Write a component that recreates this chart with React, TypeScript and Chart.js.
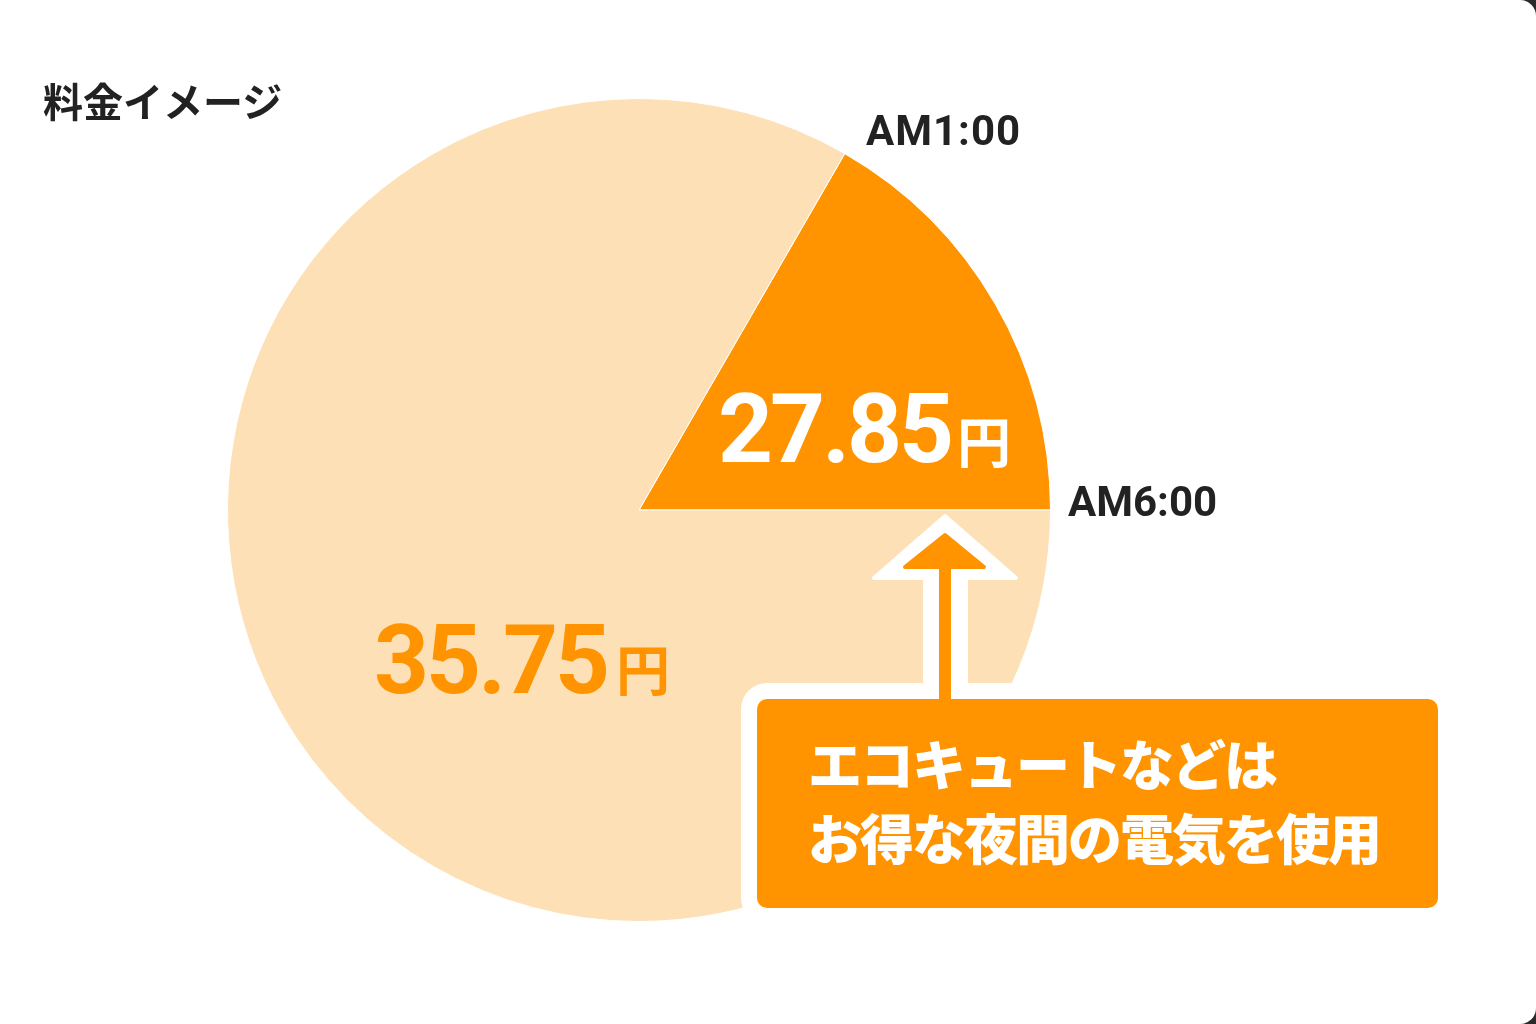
import React, { useEffect, useRef } from 'react';
import { Chart, registerables } from 'chart.js';

Chart.register(...registerables);

// ---- data ----
const sliceLabels = ['AM1:00〜AM6:00', 'その他の時間'];
const sliceShares = [60, 300]; // share of the dial (degrees)
const sliceColors = ['#FF9400', '#FDE0B6'];
const sliceStartAngle = 30;
const priceValues = ['27.85', '35.75'];
const priceUnit = '円';
const timeLabels = ['AM1:00', 'AM6:00'];
const titleText = '料金イメージ';
const calloutLines = ['エコキュートなどは', 'お得な夜間の電気を使用'];

const W = 1536;
const H = 1024;
const CX = 639;
const CY = 510;
const R = 412;

const ORANGE = '#FF9400';

const calloutPlugin = {
  id: 'calloutPlugin',
  afterDatasetsDraw(chart: any) {
    const ctx: CanvasRenderingContext2D = chart.ctx;
    ctx.save();
    ctx.lineJoin = 'round';
    // white outline arrow
    ctx.fillStyle = '#ffffff';
    ctx.strokeStyle = '#ffffff';
    ctx.lineWidth = 4;
    ctx.beginPath();
    ctx.moveTo(945, 516);
    ctx.lineTo(1016, 578);
    ctx.lineTo(966, 578);
    ctx.lineTo(966, 700);
    ctx.lineTo(925, 700);
    ctx.lineTo(925, 578);
    ctx.lineTo(874, 578);
    ctx.closePath();
    ctx.fill();
    ctx.stroke();
    // white box border
    ctx.beginPath();
    (ctx as any).roundRect(741, 683, 713, 241, 26);
    ctx.fill();
    // orange box
    ctx.fillStyle = ORANGE;
    ctx.beginPath();
    (ctx as any).roundRect(757, 699, 681, 209, 10);
    ctx.fill();
    // orange arrow
    ctx.strokeStyle = ORANGE;
    ctx.beginPath();
    ctx.moveTo(945, 535);
    ctx.lineTo(984, 567);
    ctx.lineTo(949, 567);
    ctx.lineTo(949, 705);
    ctx.lineTo(941, 705);
    ctx.lineTo(941, 567);
    ctx.lineTo(905, 567);
    ctx.closePath();
    ctx.fill();
    ctx.stroke();
    ctx.restore();
  },
};

const abs = (s: React.CSSProperties): React.CSSProperties => ({
  position: 'absolute',
  whiteSpace: 'nowrap',
  lineHeight: 1,
  margin: 0,
  ...s,
});

export default function App() {
  const canvasRef = useRef<HTMLCanvasElement | null>(null);

  useEffect(() => {
    if (!canvasRef.current) return;
    const chart = new Chart(canvasRef.current, {
      type: 'pie',
      data: {
        labels: sliceLabels,
        datasets: [
          {
            data: sliceShares,
            backgroundColor: sliceColors,
            borderColor: '#ffffff',
            borderWidth: 1,
            hoverOffset: 0,
          },
        ],
      },
      options: {
        responsive: false,
        animation: false,
        events: [],
        rotation: sliceStartAngle,
        layout: {
          padding: {
            left: CX - R,
            right: W - CX - R,
            top: CY - R,
            bottom: H - CY - R,
          },
        },
        plugins: {
          legend: { display: false },
          tooltip: { enabled: false },
        },
      },
      plugins: [calloutPlugin],
    });
    return () => chart.destroy();
  }, []);

  const roboto = '"Roboto", "Liberation Sans", sans-serif';
  const cjk = '"Noto Sans CJK JP", "Noto Sans", sans-serif';

  return (
    <div style={{ position: 'absolute', left: 0, top: 0, width: W, height: H, background: '#2b2b2b', overflow: 'hidden' }}>
      <div style={{ position: 'absolute', left: 0, top: 0, width: W, height: H, background: '#ffffff', borderRadius: '0 16px 16px 0' }} />
      <canvas ref={canvasRef} width={W} height={H} style={{ position: 'absolute', left: 0, top: 0, width: W, height: H }} />

      <div style={abs({ left: 43, top: 80, fontFamily: cjk, fontWeight: 700, fontSize: 40, color: '#222' })}>{titleText}</div>

      <div style={abs({ left: 866, top: 110, fontFamily: roboto, fontWeight: 700, fontSize: 42, letterSpacing: 1, color: '#222' })}>{timeLabels[0]}</div>
      <div style={abs({ left: 1068, top: 481, fontFamily: roboto, fontWeight: 700, fontSize: 42, color: '#222' })}>{timeLabels[1]}</div>

      <div style={abs({ left: 718, top: 381, fontFamily: roboto, fontWeight: 700, fontSize: 96, letterSpacing: -3, color: '#ffffff' })}>{priceValues[0]}</div>
      <div style={abs({ left: 957, top: 413, fontFamily: cjk, fontWeight: 700, fontSize: 54, color: '#ffffff' })}>{priceUnit}</div>

      <div style={abs({ left: 374, top: 612, fontFamily: roboto, fontWeight: 700, fontSize: 96, letterSpacing: -3, color: ORANGE })}>{priceValues[1]}</div>
      <div style={abs({ left: 616, top: 641, fontFamily: cjk, fontWeight: 700, fontSize: 54, color: ORANGE })}>{priceUnit}</div>

      <div style={abs({ left: 808, top: 726, fontFamily: cjk, fontWeight: 900, fontSize: 54, lineHeight: '74px', color: '#ffffff' })}>
        <div style={{ letterSpacing: -2 }}>{calloutLines[0]}</div>
        <div style={{ letterSpacing: -2 }}>{calloutLines[1]}</div>
      </div>
    </div>
  );
}
